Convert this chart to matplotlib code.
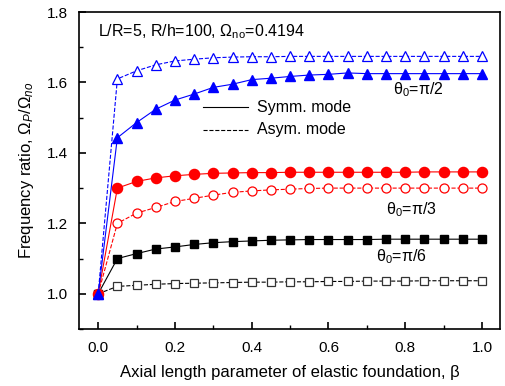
import numpy as np
import matplotlib.pyplot as plt
from matplotlib.ticker import MultipleLocator

plt.rcParams['font.family'] = ['Liberation Sans', 'DejaVu Sans']
plt.rcParams['mathtext.fontset'] = 'custom'
plt.rcParams['mathtext.rm'] = 'Liberation Sans'
plt.rcParams['mathtext.it'] = 'Liberation Sans:italic'

beta = np.round(np.arange(0, 1.0001, 0.05), 2)

# theta0 = pi/2
sym_90 = [1.0, 1.443, 1.486, 1.524, 1.550, 1.567, 1.586, 1.595, 1.608, 1.612, 1.617,
          1.621, 1.623, 1.627, 1.625, 1.625, 1.625, 1.625, 1.625, 1.625, 1.625]
asym_90 = [1.0, 1.610, 1.633, 1.650, 1.661, 1.666, 1.670, 1.672, 1.673, 1.673, 1.674,
           1.674, 1.674, 1.674, 1.674, 1.674, 1.674, 1.674, 1.674, 1.674, 1.674]
# theta0 = pi/3
sym_60 = [1.0, 1.300, 1.319, 1.329, 1.335, 1.339, 1.342, 1.343, 1.344, 1.344, 1.345,
          1.345, 1.345, 1.345, 1.345, 1.345, 1.345, 1.346, 1.346, 1.346, 1.346]
asym_60 = [1.0, 1.200, 1.229, 1.245, 1.262, 1.271, 1.280, 1.288, 1.292, 1.295, 1.297,
           1.299, 1.300, 1.300, 1.300, 1.300, 1.300, 1.300, 1.300, 1.300, 1.300]
# theta0 = pi/6
sym_30 = [1.0, 1.100, 1.114, 1.127, 1.133, 1.140, 1.145, 1.148, 1.150, 1.152, 1.153,
          1.154, 1.154, 1.154, 1.154, 1.155, 1.155, 1.155, 1.155, 1.155, 1.155]
asym_30 = [1.0, 1.021, 1.024, 1.027, 1.029, 1.030, 1.031, 1.032, 1.033, 1.033, 1.034,
           1.034, 1.035, 1.035, 1.036, 1.036, 1.036, 1.037, 1.037, 1.037, 1.037]

fig = plt.figure(figsize=(5.06, 3.86), dpi=100)
ax = fig.add_axes([79/506, 1-329/386, 421/506, 317/386])

ax.plot(beta, asym_30, '--', color='black', lw=0.8, marker='s', ms=6,
        mfc='white', mec='#333333', mew=0.9)
ax.plot(beta, sym_30, '-', color='black', lw=0.8, marker='s', ms=6, mfc='black', mec='black')
ax.plot(beta, asym_60, '--', color='red', lw=0.8, marker='o', ms=6.5,
        mfc='white', mec='red', mew=0.9)
ax.plot(beta, sym_60, '-', color='red', lw=0.8, marker='o', ms=7.3, mfc='red', mec='red')
ax.plot(beta, asym_90, '--', color='blue', lw=0.8, marker='^', ms=7.5,
        mfc='white', mec='blue', mew=0.9)
ax.plot(beta, sym_90, '-', color='blue', lw=0.8, marker='^', ms=7.5, mfc='blue', mec='blue')

ax.set_xlim(-0.05, 1.047)
ax.set_ylim(0.9, 1.8)
ax.xaxis.set_major_locator(MultipleLocator(0.2))
ax.xaxis.set_minor_locator(MultipleLocator(0.1))
ax.yaxis.set_major_locator(MultipleLocator(0.2))
ax.yaxis.set_minor_locator(MultipleLocator(0.1))
ax.tick_params(which='both', direction='in', labelsize=11)
ax.tick_params(which='major', length=5, width=1.2)
ax.tick_params(which='minor', length=3, width=1.0)
ax.tick_params(axis='x', which='major', pad=9)
ax.tick_params(axis='y', which='major', pad=8)
for s in ax.spines.values():
    s.set_linewidth(1.2)

ax.set_xlabel('Axial length parameter of elastic foundation, β', fontsize=12, labelpad=7)
ax.set_ylabel(r'Frequency ratio, $\Omega_P/\Omega_{no}$', fontsize=12, labelpad=8)

ax.text(0.0, 1.745, r'L/R=5, R/h=100, Ω$_\mathrm{no}$=0.4194', fontsize=11.5, va='center')
ax.text(0.835, 1.58, 'θ$_0$=π/2', fontsize=11.5, va='center', ha='center')
ax.text(0.815, 1.24, 'θ$_0$=π/3', fontsize=11.5, va='center', ha='center')
ax.text(0.79, 1.105, 'θ$_0$=π/6', fontsize=11.5, va='center', ha='center')

# legend drawn as line samples with labels
ax.plot([0.274, 0.391], [1.529, 1.529], '-', color='black', lw=0.8)
ax.plot([0.274, 0.391], [1.466, 1.466], '--', color='black', lw=0.8)
ax.text(0.415, 1.529, 'Symm. mode', fontsize=11.5, va='center')
ax.text(0.415, 1.466, 'Asym. mode', fontsize=11.5, va='center')

fig.savefig('out.png', dpi=100)
